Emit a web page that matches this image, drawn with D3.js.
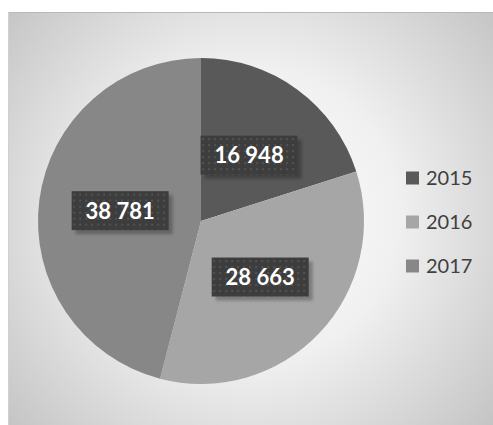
<!DOCTYPE html>
<html>
<head>
<meta charset="utf-8">
<script src="https://cdn.jsdelivr.net/npm/d3@7"></script>
<style>
  body { margin: 0; background: #fff; }
</style>
</head>
<body>
<div id="chart"></div>
<script>
const years = ["2015", "2016", "2017"];
const values = [16948, 28663, 38781];
const colors = ["#595959", "#a6a6a6", "#878787"];

const width = 493, height = 425;
const cx = 201, cy = 221, radius = 163;

const svg = d3.select("#chart")
  .append("svg")
  .attr("width", width)
  .attr("height", height);

const defs = svg.append("defs");

// background gradient of the chart area
const grad = defs.append("radialGradient")
  .attr("id", "bg")
  .attr("gradientUnits", "userSpaceOnUse")
  .attr("cx", 250).attr("cy", 215).attr("r", 330);
grad.append("stop").attr("offset", "0%").attr("stop-color", "#ffffff");
grad.append("stop").attr("offset", "45%").attr("stop-color", "#f0f0f0");
grad.append("stop").attr("offset", "100%").attr("stop-color", "#c2c2c2");

// dotted pattern for the label boxes
const pat = defs.append("pattern")
  .attr("id", "dots")
  .attr("patternUnits", "userSpaceOnUse")
  .attr("width", 6).attr("height", 6);
pat.append("rect").attr("width", 6).attr("height", 6).attr("fill", "#3d3d3d");
pat.append("rect").attr("x", 1).attr("y", 1).attr("width", 2).attr("height", 2).attr("fill", "#525252");

const shadow = defs.append("filter").attr("id", "shadow");
shadow.append("feGaussianBlur").attr("stdDeviation", 1.5);

// frame
svg.append("rect")
  .attr("x", 8).attr("y", 13)
  .attr("width", width - 8).attr("height", height - 13)
  .attr("fill", "url(#bg)");
svg.append("line")
  .attr("x1", 8).attr("x2", width).attr("y1", 12.5).attr("y2", 12.5)
  .attr("stroke", "#b8b8b8");
svg.append("line")
  .attr("x1", 8.5).attr("x2", 8.5).attr("y1", 12).attr("y2", height)
  .attr("stroke", "#d0d0d0");

const data = years.map((y, i) => ({ year: y, value: values[i], color: colors[i] }));

const pie = d3.pie().sort(null).value(d => d.value);
const arc = d3.arc().innerRadius(0).outerRadius(radius);
const arcs = pie(data);

const g = svg.append("g").attr("transform", `translate(${cx},${cy})`);

g.selectAll("path.slice")
  .data(arcs)
  .enter().append("path")
  .attr("class", "slice")
  .attr("d", arc)
  .attr("fill", d => d.data.color);

// data labels
const fmt = v => d3.format(",")(v).replace(/,/g, " ");
const boxW = 97, boxH = 39;
const labels = g.selectAll("g.lbl")
  .data(arcs)
  .enter().append("g")
  .attr("class", "lbl")
  .attr("transform", d => {
    const c = arc.centroid(d);
    return `translate(${c[0]},${c[1]})`;
  });

labels.append("rect")
  .attr("x", -boxW / 2 + 4).attr("y", -boxH / 2 + 4)
  .attr("width", boxW).attr("height", boxH)
  .attr("fill", "#000").attr("opacity", 0.25)
  .attr("filter", "url(#shadow)");
labels.append("rect")
  .attr("x", -boxW / 2).attr("y", -boxH / 2)
  .attr("width", boxW).attr("height", boxH)
  .attr("fill", "url(#dots)");
labels.append("text")
  .attr("text-anchor", "middle")
  .attr("dy", "0.36em")
  .attr("fill", "#fff")
  .attr("font-family", "Lato, 'Open Sans', sans-serif")
  .attr("font-weight", "bold")
  .attr("font-size", "22px")
  .text(d => fmt(d.data.value));

// legend
const legend = svg.append("g").attr("transform", "translate(406,178)");
const row = legend.selectAll("g")
  .data(data)
  .enter().append("g")
  .attr("transform", (d, i) => `translate(0,${i * 44})`);
row.append("rect")
  .attr("x", 0).attr("y", -6.5)
  .attr("width", 13).attr("height", 13)
  .attr("fill", d => d.color);
row.append("text")
  .attr("x", 20)
  .attr("dy", "0.36em")
  .attr("fill", "#404040")
  .attr("font-family", "Lato, 'Open Sans', sans-serif")
  .attr("font-size", "20px")
  .text(d => d.year);
</script>
</body>
</html>
